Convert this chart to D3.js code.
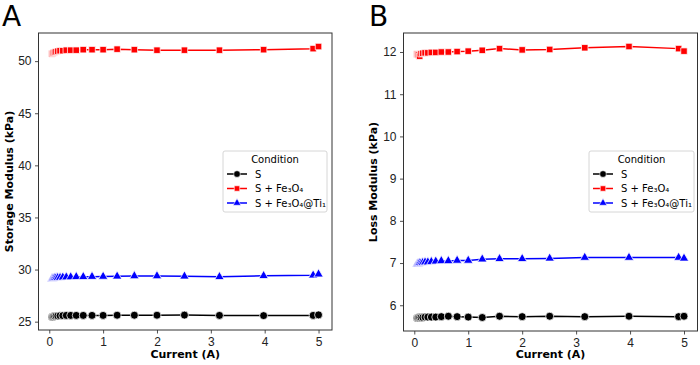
<!DOCTYPE html>
<html>
<head>
<meta charset="utf-8">
<script src="https://cdn.jsdelivr.net/npm/d3@7"></script>
<style>
  body { margin: 0; background: #fff; }
  svg { font-family: "DejaVu Sans", sans-serif; }
</style>
</head>
<body>
<div id="chart"></div>
<script>
// data
const current = [0.05, 0.063, 0.079, 0.1, 0.126, 0.158, 0.2, 0.251, 0.316, 0.398, 0.501,
  0.631, 0.794, 1, 1.26, 1.58, 2, 2.51, 3.16, 3.98, 4.9, 5.0];
const conditions = ["S", "S + Fe\u2083O\u2084", "S + Fe\u2083O\u2084@Ti\u2081"];

const storageS = [25.45, 25.47, 25.5, 25.52, 25.55, 25.55, 25.57, 25.58, 25.6, 25.6, 25.6,
  25.6, 25.6, 25.6, 25.62, 25.62, 25.62, 25.63, 25.6, 25.58, 25.6, 25.65];
const storageFe = [50.7, 50.75, 50.8, 50.85, 50.9, 50.95, 51.0, 51.0, 51.05, 51.05, 51.05,
  51.1, 51.1, 51.1, 51.15, 51.1, 51.05, 51.05, 51.05, 51.1, 51.2, 51.4];
const storageTi = [29.1, 29.12, 29.15, 29.18, 29.2, 29.22, 29.23, 29.25, 29.27, 29.28, 29.3,
  29.3, 29.32, 29.33, 29.35, 29.38, 29.38, 29.35, 29.3, 29.4, 29.45, 29.55];

const lossS = [5.7, 5.7, 5.71, 5.71, 5.71, 5.71, 5.72, 5.72, 5.72, 5.72, 5.73,
  5.74, 5.73, 5.72, 5.71, 5.74, 5.73, 5.74, 5.73, 5.74, 5.73, 5.74];
const lossFe = [11.95, 11.94, 11.93, 11.9, 11.96, 11.97, 11.98, 11.98, 11.99, 11.99, 12.0,
  12.0, 12.01, 12.02, 12.04, 12.08, 12.05, 12.06, 12.1, 12.13, 12.08, 12.02];
const lossTi = [6.97, 6.98, 6.99, 7.0, 7.0, 7.01, 7.02, 7.02, 7.03, 7.04, 7.05,
  7.05, 7.06, 7.06, 7.09, 7.1, 7.1, 7.11, 7.13, 7.13, 7.13, 7.11];

const xTicks = [0, 1, 2, 3, 4, 5];
const storageTicks = [25, 30, 35, 40, 45, 50];
const lossTicks = [6, 7, 8, 9, 10, 11, 12];

const colors = ["#000000", "#ff0000", "#0000ff"];
const symbols = [d3.symbolCircle, d3.symbolSquare, d3.symbolTriangle];
const symSizes = [50, 42, 38];

//size
const width = 700;
const height = 365;

const svg = d3.select("#chart").append("svg")
  .attr("width", width)
  .attr("height", height);

function panel(opt) {
  const { left, right, top, bottom } = opt;
  const x = d3.scaleLinear().domain([-0.2, 5.25]).range([left, right]);
  const y = d3.scaleLinear().domain(opt.yDomain).range([bottom, top]);

  const g = svg.append("g");

  // lines + markers
  opt.series.forEach((vals, i) => {
    const pts = current.map((c, j) => [c, vals[j]]);
    g.append("path")
      .datum(pts)
      .attr("fill", "none")
      .attr("stroke", colors[i])
      .attr("stroke-width", 1.5)
      .attr("d", d3.line().x((d) => x(d[0])).y((d) => y(d[1])));
    g.selectAll(null)
      .data(pts)
      .join("path")
      .attr("transform", (d) => `translate(${x(d[0])},${y(d[1])})`)
      .attr("d", d3.symbol(symbols[i], symSizes[i]))
      .attr("fill", colors[i])
      .attr("stroke", "#fff")
      .attr("stroke-width", 0.75);
  });

  // axes
  const fmt = d3.format("d");
  g.append("g")
    .attr("transform", `translate(0,${bottom})`)
    .call(d3.axisBottom(x).tickValues(xTicks).tickSize(3.5).tickPadding(3.5).tickFormat(fmt))
    .call((a) => {
      a.select(".domain").remove();
      a.selectAll("text").attr("font-size", 12).attr("fill", "#222");
      a.selectAll("line").attr("stroke", "#222").attr("stroke-width", 0.8);
    });
  g.append("g")
    .attr("transform", `translate(${left},0)`)
    .call(d3.axisLeft(y).tickValues(opt.yTicks).tickSize(3.5).tickPadding(3.5).tickFormat(fmt))
    .call((a) => {
      a.select(".domain").remove();
      a.selectAll("text").attr("font-size", 12).attr("fill", "#222");
      a.selectAll("line").attr("stroke", "#222").attr("stroke-width", 0.8);
    });

  g.append("rect")
    .attr("x", left).attr("y", top)
    .attr("width", right - left).attr("height", bottom - top)
    .attr("fill", "none").attr("stroke", "#333").attr("stroke-width", 1);

  // labels
  g.append("text")
    .attr("x", (left + right) / 2).attr("y", 358)
    .attr("text-anchor", "middle")
    .attr("font-size", 11).attr("font-weight", "bold")
    .text("Current (A)");
  g.append("text")
    .attr("transform", `translate(${opt.yLabelX},${(top + bottom) / 2}) rotate(-90)`)
    .attr("text-anchor", "middle")
    .attr("dominant-baseline", "central")
    .attr("font-size", 11).attr("font-weight", "bold")
    .text(opt.yLabel);
  g.append("text")
    .attr("x", opt.letterX).attr("y", 26)
    .attr("font-size", 28)
    .text(opt.letter);

  // legend
  const lg = g.append("g").attr("transform", `translate(${opt.legX},${opt.legY})`);
  lg.append("rect")
    .attr("width", opt.legW).attr("height", 61).attr("rx", 2)
    .attr("fill", "#fff").attr("fill-opacity", 0.8)
    .attr("stroke", "#ccc").attr("stroke-width", 0.8);
  lg.append("text")
    .attr("x", opt.legW / 2).attr("y", 12)
    .attr("text-anchor", "middle").attr("font-size", 10)
    .text("Condition");
  conditions.forEach((c, i) => {
    const yy = 23 + i * 14.5;
    lg.append("line")
      .attr("x1", 4).attr("x2", 24).attr("y1", yy).attr("y2", yy)
      .attr("stroke", colors[i]).attr("stroke-width", 1.5);
    lg.append("path")
      .attr("transform", `translate(14,${yy})`)
      .attr("d", d3.symbol(symbols[i], symSizes[i] * 0.7))
      .attr("fill", colors[i]).attr("stroke", "#fff").attr("stroke-width", 0.6);
    lg.append("text")
      .attr("x", 32).attr("y", yy).attr("dy", "0.35em")
      .attr("font-size", 10)
      .text(c);
  });
}

panel({
  left: 38.5, right: 332, top: 33, bottom: 330,
  yDomain: [24.2, 52.7], yTicks: storageTicks,
  series: [storageS, storageFe, storageTi],
  yLabel: "Storage Modulus (kPa)", yLabelX: 9,
  letter: "A", letterX: 2,
  legX: 223, legY: 151, legW: 104
});

panel({
  left: 403.5, right: 697.5, top: 33, bottom: 331,
  yDomain: [5.39, 12.45], yTicks: lossTicks,
  series: [lossS, lossFe, lossTi],
  yLabel: "Loss Modulus (kPa)", yLabelX: 373,
  letter: "B", letterX: 369,
  legX: 589, legY: 151, legW: 105
});
</script>
</body>
</html>
